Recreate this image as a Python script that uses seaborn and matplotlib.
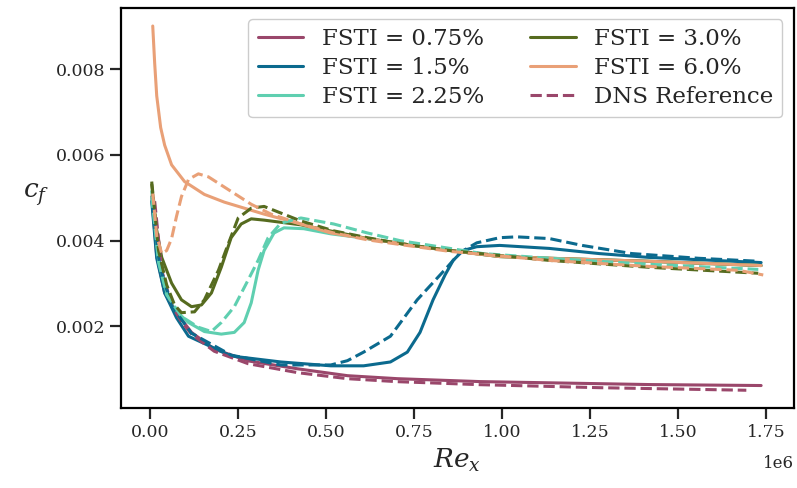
import numpy as np
import seaborn as sns
import matplotlib.pyplot as plt
from matplotlib.lines import Line2D

re_075 = [0.0056, 0.0198, 0.0423, 0.062, 0.0903, 0.1185, 0.183, 0.279, 0.420, 0.561, 0.703, 0.937, 1.416, 1.735]
cf_075 = [0.00503, 0.003655, 0.00278, 0.002505, 0.00216, 0.00186, 0.00147, 0.001195, 0.00101, 0.00085, 0.00078, 0.000712, 0.000643, 0.00062]

re_15 = [0.0056, 0.0198, 0.0423, 0.076, 0.110, 0.231, 0.372, 0.514, 0.607, 0.683, 0.731, 0.767, 0.804, 0.838,
         0.861, 0.889, 0.928, 0.993, 1.134, 1.275, 1.416, 1.735]
cf_15 = [0.00492, 0.00359, 0.00278, 0.0022, 0.00177, 0.00131, 0.00117, 0.00108, 0.00108, 0.00117, 0.0014, 0.00186,
         0.00262, 0.0032, 0.00354, 0.00377, 0.00386, 0.00389, 0.00382, 0.0037, 0.00361, 0.00349]

re_225 = [0.0056, 0.025, 0.048, 0.0705, 0.110, 0.155, 0.203, 0.240, 0.268, 0.288, 0.3075, 0.3245, 0.3527, 0.381,
          0.437, 0.514, 0.618, 0.804, 0.993, 1.134, 1.416, 1.735]
cf_225 = [0.00515, 0.00354, 0.0028, 0.00239, 0.00209, 0.00188, 0.00182, 0.00186, 0.00209, 0.00255, 0.00331, 0.00377,
          0.00418, 0.0043, 0.00428, 0.00416, 0.00405, 0.00382, 0.00363, 0.00359, 0.00352, 0.00342]

re_30 = [0.0056, 0.0198, 0.034, 0.062, 0.090, 0.1185, 0.1467, 0.175, 0.203, 0.231, 0.2595, 0.288, 0.3245, 0.429,
         0.618, 0.804, 0.993, 1.134, 1.416, 1.735]
cf_30 = [0.00531, 0.00423, 0.00361, 0.00301, 0.00262, 0.00246, 0.0025, 0.00278, 0.00338, 0.00407, 0.00439, 0.00451,
         0.00448, 0.00437, 0.00405, 0.00382, 0.00363, 0.00359, 0.00352, 0.00342]

re_60 = [0.0085, 0.014, 0.0198, 0.031, 0.0423, 0.062, 0.0988, 0.155, 0.2116, 0.268, 0.3245, 0.420, 0.514, 0.618,
         0.804, 0.993, 1.134, 1.416, 1.735]
cf_60 = [0.00901, 0.00814, 0.00738, 0.00664, 0.00623, 0.00577, 0.00538, 0.00508, 0.0049, 0.00476, 0.00462, 0.00441,
         0.00418, 0.00405, 0.00382, 0.00363, 0.00359, 0.00352, 0.00342]

# DNS reference
dns_re_075 = [0.014, 0.034, 0.062, 0.090, 0.1185, 0.183, 0.279, 0.420, 0.561, 0.703, 0.937, 1.275, 1.693]
dns_cf_075 = [0.00492, 0.00331, 0.0025, 0.00211, 0.00182, 0.00142, 0.00113, 0.00092, 0.00078, 0.00071, 0.00064, 0.00057, 0.00051]

dns_re_15 = [0.0085, 0.028, 0.062, 0.1185, 0.231, 0.372, 0.514, 0.561, 0.607, 0.683, 0.759, 0.844, 0.880, 0.928,
             0.993, 1.041, 1.134, 1.227, 1.368, 1.557, 1.727]
dns_cf_15 = [0.0048, 0.00342, 0.00248, 0.00184, 0.00133, 0.0011, 0.0011, 0.0012, 0.0014, 0.00177, 0.00262, 0.00338,
             0.00372, 0.00395, 0.00407, 0.00409, 0.00405, 0.00389, 0.0037, 0.00359, 0.00352]

dns_re_225 = [0.0056, 0.025, 0.048, 0.090, 0.138, 0.175, 0.203, 0.240, 0.279, 0.3075, 0.336, 0.372, 0.429, 0.522,
              0.618, 0.711, 0.852, 0.945, 1.134, 1.416, 1.727]
dns_cf_225 = [0.00503, 0.0035, 0.00274, 0.00223, 0.00198, 0.00188, 0.00209, 0.00246, 0.00308, 0.00354, 0.00407,
              0.00441, 0.00453, 0.00439, 0.00418, 0.004, 0.00382, 0.0037, 0.00359, 0.00345, 0.00333]

dns_re_30 = [0.0056, 0.025, 0.048, 0.0705, 0.090, 0.127, 0.155, 0.195, 0.223, 0.251, 0.288, 0.3245, 0.429, 0.522,
             0.618, 0.711, 0.852, 1.134, 1.416, 1.727]
dns_cf_30 = [0.00538, 0.00377, 0.00297, 0.0025, 0.00232, 0.00234, 0.00262, 0.00331, 0.00393, 0.00453, 0.00476,
             0.0048, 0.00446, 0.00423, 0.00407, 0.00393, 0.00377, 0.00354, 0.00338, 0.00324]

dns_re_60 = [0.0085, 0.0198, 0.034, 0.048, 0.062, 0.076, 0.090, 0.110, 0.138, 0.1665, 0.231, 0.288, 0.344, 0.429,
             0.522, 0.618, 0.711, 0.852, 1.134, 1.416, 1.670, 1.741]
dns_cf_60 = [0.0051, 0.00411, 0.0037, 0.00377, 0.00405, 0.00457, 0.00503, 0.00543, 0.00556, 0.00549, 0.00515,
             0.00485, 0.00462, 0.00439, 0.00418, 0.00402, 0.00391, 0.00375, 0.00354, 0.0034, 0.00331, 0.0032]

labels = ["FSTI = 0.75%", "FSTI = 1.5%", "FSTI = 2.25%", "FSTI = 3.0%", "FSTI = 6.0%"]
colors = ["#9a476b", "#0b6a8e", "#5fcfb0", "#566b1f", "#e9a077"]

model = [(re_075, cf_075), (re_15, cf_15), (re_225, cf_225), (re_30, cf_30), (re_60, cf_60)]
dns = [(dns_re_075, dns_cf_075), (dns_re_15, dns_cf_15), (dns_re_225, dns_cf_225),
       (dns_re_30, dns_cf_30), (dns_re_60, dns_cf_60)]

sns.set_theme(style="ticks")
plt.rcParams['font.family'] = ['DejaVu Serif']
plt.rcParams['mathtext.fontset'] = 'dejavuserif'

fig, ax = plt.subplots(figsize=(7.97, 4.88), dpi=100)
fig.subplots_adjust(left=0.152, right=0.996, top=0.984, bottom=0.163)

for (x, y), c, lab in zip(model, colors, labels):
    sns.lineplot(x=np.array(x) * 1e6, y=y, ax=ax, color=c, lw=2.2, label=lab)
for (x, y), c in zip(dns, colors):
    sns.lineplot(x=np.array(x) * 1e6, y=y, ax=ax, color=c, lw=2.2, linestyle='--', label=None)

handles = [Line2D([], [], color=c, lw=2.2) for c in colors]
handles.append(Line2D([], [], color=colors[0], lw=2.2, linestyle='--'))
ax.legend(handles, labels + ["DNS Reference"], ncol=2, loc="upper right", fontsize=16.5,
          frameon=True, edgecolor="#cccccc", framealpha=1, columnspacing=2.0, labelspacing=0.3)

ax.set_xlabel(r"$Re_x$", fontsize=19)
ax.set_ylabel(r"$c_f$", fontsize=19, rotation=0, labelpad=14)
ax.set_xticks(np.arange(0, 1.76e6, 0.25e6))
ax.set_yticks([0.002, 0.004, 0.006, 0.008])
ax.tick_params(labelsize=12.5, length=8, width=1.6)
ax.xaxis.OFFSETTEXTPAD = 10
ax.xaxis.get_offset_text().set_fontsize(12)
ax.xaxis.get_offset_text().set_family('DejaVu Serif')
for s in ax.spines.values():
    s.set_linewidth(1.6)
    s.set_color("black")

fig.savefig("out.png", dpi=100)
